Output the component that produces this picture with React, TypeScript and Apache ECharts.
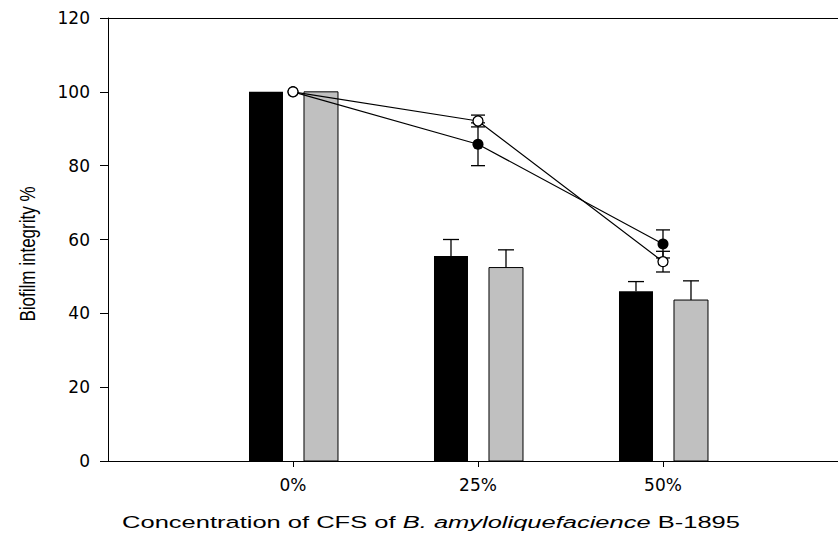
import React, { useEffect, useRef } from "react";
import * as echarts from "echarts";

const categories = ["0%", "25%", "50%"];
const yTicks = [0, 20, 40, 60, 80, 100, 120];

const barBlack = [100, 55.5, 46.0];
const barBlackErr = [0, 4.5, 2.6];
const barGray = [100, 52.4, 43.6];
const barGrayErr = [0, 4.8, 5.2];

const lineFilled = [100, 85.8, 58.8];
const lineFilledErr = [0, 5.8, 3.8];
const lineOpen = [100, 92.1, 54.0];
const lineOpenErr = [0, 1.6, 2.8];

const X_MIN = -1;
const X_MAX = 2.946;

const BAR_OFFSETS = [-27, 28];
const BAR_WIDTH = 34;

export default function App() {
  const ref = useRef<HTMLDivElement>(null);
  useEffect(() => {
    const chart = echarts.init(ref.current!, null, { renderer: "svg" });

    const barData: number[][] = [];
    categories.forEach((_, i) => {
      barData.push([i, barBlack[i], barBlackErr[i], 0]);
      barData.push([i, barGray[i], barGrayErr[i], 1]);
    });
    const lineErrData: number[][] = [];
    categories.forEach((_, i) => {
      if (lineFilledErr[i] > 0) lineErrData.push([i, lineFilled[i], lineFilledErr[i]]);
      if (lineOpenErr[i] > 0) lineErrData.push([i, lineOpen[i], lineOpenErr[i]]);
    });

    chart.setOption({
      animation: false,
      backgroundColor: "#fff",
      grid: {
        left: 108,
        top: 18,
        right: 0,
        height: 443,
      },
      xAxis: [
        {
          type: "value",
          min: X_MIN,
          max: X_MAX,
          splitLine: { show: false },
          axisLine: { show: true, onZero: false, lineStyle: { color: "#000", width: 1 } },
          axisTick: {
            show: true,
            length: 6,
            customValues: [0, 1, 2],
            lineStyle: { color: "#000" },
          },
          axisLabel: {
            customValues: [0, 1, 2],
            formatter: (v: number) => categories[Math.round(v)] ?? "",
            color: "#000",
            fontFamily: "DejaVu Sans",
            fontSize: 17,
            margin: 15,
          },
        },
        {
          type: "value",
          position: "top",
          min: X_MIN,
          max: X_MAX,
          splitLine: { show: false },
          axisLine: { show: true, onZero: false, lineStyle: { color: "#000", width: 1 } },
          axisTick: { show: false },
          axisLabel: { show: false },
        },
      ],
      yAxis: {
        type: "value",
        min: 0,
        max: 120,
        interval: 20,
        splitLine: { show: false },
        axisLine: { show: true, onZero: false, lineStyle: { color: "#000", width: 1 } },
        axisTick: { show: true, inside: false, length: 8, lineStyle: { color: "#000" } },
        axisLabel: {
          color: "#000",
          fontFamily: "DejaVu Sans",
          fontSize: 17,
          margin: 18,
          formatter: (v: number) => (yTicks.includes(v) ? String(v) : ""),
        },
      },
      graphic: [
        {
          type: "text",
          x: 27,
          y: 254,
          rotation: Math.PI / 2,
          scaleY: 1.3,
          style: {
            text: "Biofilm integrity %",
            fontFamily: "Liberation Sans",
            fontSize: 17,
            fill: "#000",
            align: "center",
            verticalAlign: "middle",
          },
        },
        {
          type: "text",
          x: 431,
          y: 522,
          scaleX: 1.5,
          style: {
            text: "{n|Concentration of CFS of }{i|B. amyloliquefacience}{n| B-1895}",
            align: "center",
            verticalAlign: "middle",
            rich: {
              n: { fontFamily: "Liberation Sans", fontSize: 17, fill: "#000" },
              i: { fontFamily: "Liberation Sans", fontSize: 17, fontStyle: "italic", fill: "#000" },
            },
          },
        },
      ],
      series: [
        {
          type: "custom",
          z: 1,
          data: barData,
          renderItem: (params: any, api: any) => {
            const x = api.value(0);
            const v = api.value(1);
            const e = api.value(2);
            const s = api.value(3);
            const top = api.coord([x, v]);
            const base = api.coord([x, 0]);
            const cx = top[0] + BAR_OFFSETS[s];
            const children: any[] = [
              {
                type: "rect",
                shape: { x: cx - BAR_WIDTH / 2, y: top[1], width: BAR_WIDTH, height: base[1] - top[1] },
                style: s === 0 ? { fill: "#000" } : { fill: "#c0c0c0", stroke: "#000", lineWidth: 1 },
              },
            ];
            if (e > 0) {
              const et = api.coord([x, v + e]);
              children.push(
                { type: "line", shape: { x1: cx, y1: top[1], x2: cx, y2: et[1] }, style: { stroke: "#000", lineWidth: 1.3 } },
                { type: "line", shape: { x1: cx - 8, y1: et[1], x2: cx + 8, y2: et[1] }, style: { stroke: "#000", lineWidth: 1.3 } }
              );
            }
            return { type: "group", children };
          },
        },
        {
          type: "custom",
          z: 2,
          data: lineErrData,
          renderItem: (params: any, api: any) => {
            const x = api.value(0);
            const v = api.value(1);
            const e = api.value(2);
            const hi = api.coord([x, v + e]);
            const lo = api.coord([x, v - e]);
            const st = { stroke: "#000", lineWidth: 1.3 };
            return {
              type: "group",
              children: [
                { type: "line", shape: { x1: hi[0], y1: hi[1], x2: lo[0], y2: lo[1] }, style: st },
                { type: "line", shape: { x1: hi[0] - 7, y1: hi[1], x2: hi[0] + 7, y2: hi[1] }, style: st },
                { type: "line", shape: { x1: lo[0] - 7, y1: lo[1], x2: lo[0] + 7, y2: lo[1] }, style: st },
              ],
            };
          },
        },
        {
          type: "line",
          z: 3,
          data: lineFilled.map((v, i) => [i, v]),
          symbol: "circle",
          symbolSize: 11,
          itemStyle: { color: "#000" },
          lineStyle: { color: "#000", width: 1.2 },
        },
        {
          type: "line",
          z: 4,
          data: lineOpen.map((v, i) => [i, v]),
          symbol: "circle",
          symbolSize: 10,
          itemStyle: { color: "#fff", borderColor: "#000", borderWidth: 1.3 },
          lineStyle: { color: "#000", width: 1.2 },
        },
      ],
    });
    return () => chart.dispose();
  }, []);
  return (
    <div
      ref={ref}
      style={{ position: "fixed", left: 0, top: 0, width: 838, height: 535 }}
    />
  );
}
